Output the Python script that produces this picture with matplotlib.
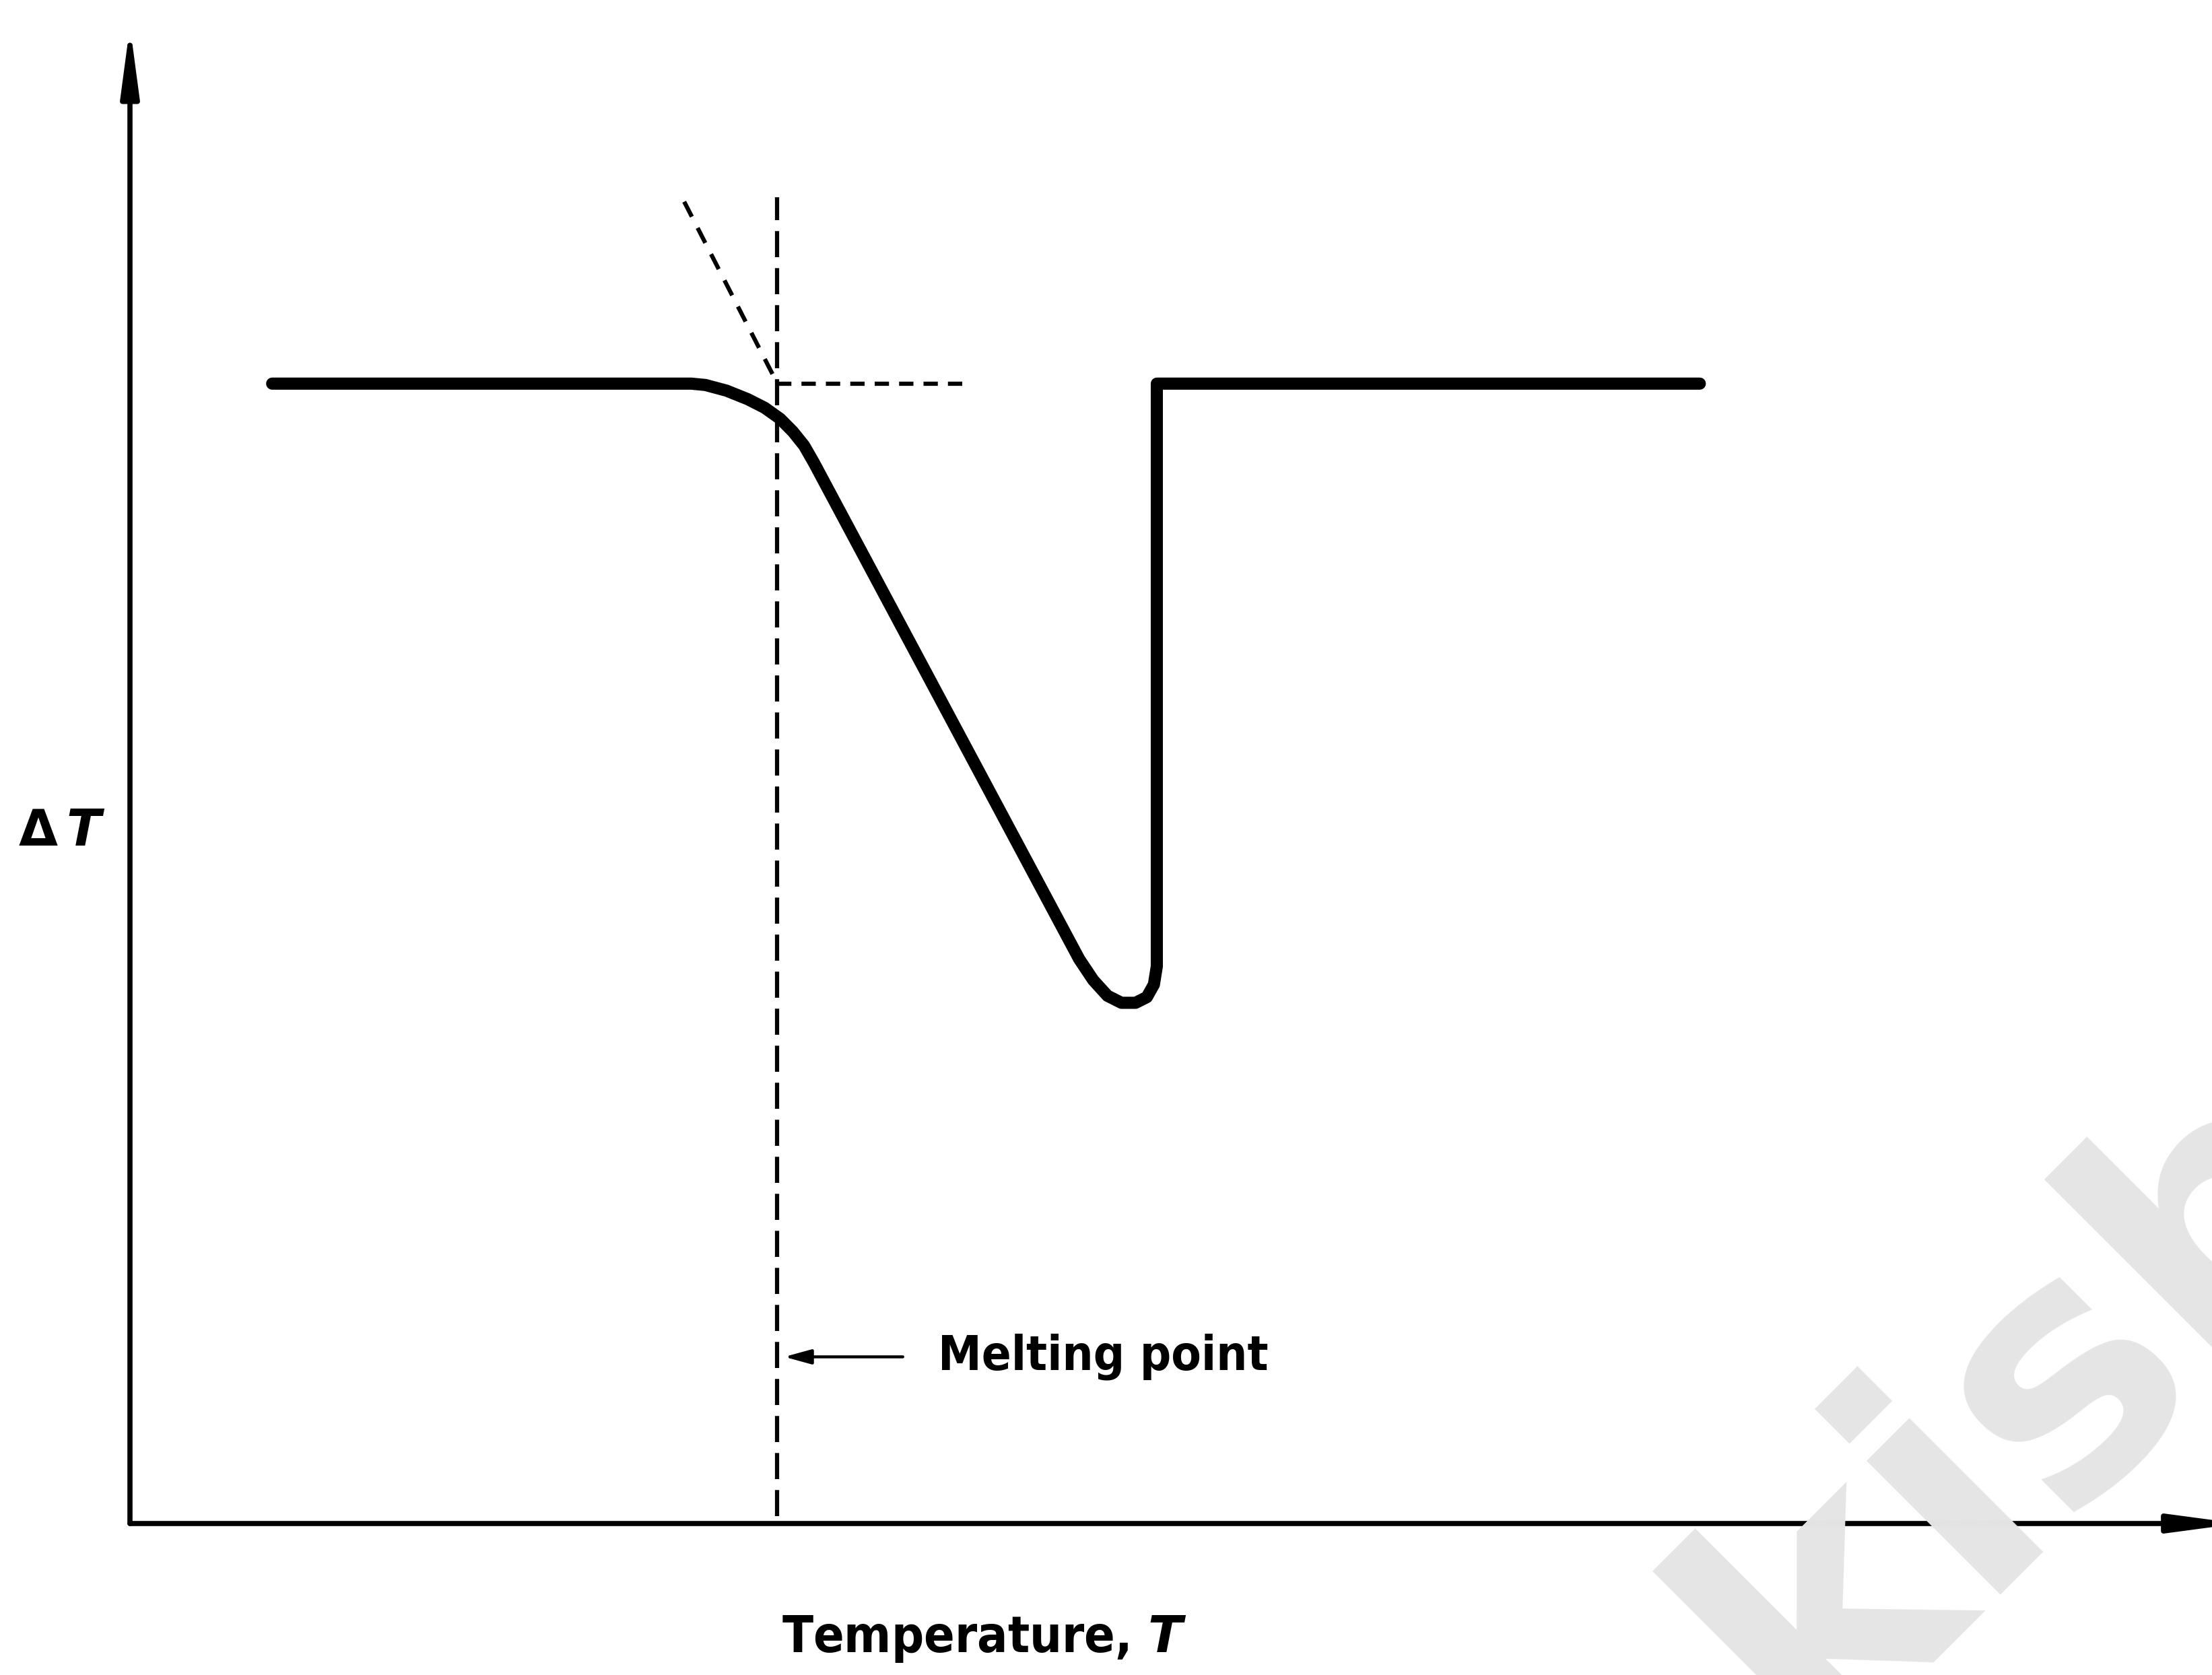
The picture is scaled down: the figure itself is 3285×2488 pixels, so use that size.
import matplotlib
matplotlib.use("Agg")
import matplotlib.pyplot as plt
from matplotlib import font_manager as fm

# ---------------- data (arbitrary units: T along x, delta-T along y) -------------
curve_T = [6.83, 26.96, 27.64, 28.65, 29.67, 30.48, 31.23, 31.84, 32.38, 32.85,
           45.59, 46.27, 46.95, 47.62, 48.30, 48.84, 49.18, 49.32, 49.32, 75.40]
curve_dT = [74.82, 74.82, 74.73, 74.36, 73.80, 73.24, 72.51, 71.67, 70.75, 69.63,
            37.05, 35.66, 34.64, 34.18, 34.18, 34.55, 35.38, 36.58, 74.82, 74.82]

melt_T = 31.09                      # melting point (vertical dashed line)
melt_dT_range = [0.49, 87.04]
base_dT = 74.82                     # baseline level
base_dash_T = [31.09, 40.03]        # horizontal dashed extension
tangent_T = [26.62, 30.89]          # extrapolated tangent (dashed)
tangent_dT = [86.76, 75.37]

label_T = [37.12, 31.43]            # arrow of the "Melting point" label (tail, head)
label_dT = 10.94
label_text = "Melting point"
xlabel = r"Temperature, $T$"
ylabel = r"$\Delta\,T$"
watermark = "kisb"

# ---------------- figure ----------------
W, H, DPI = 3285, 2488, 100
plt.rcParams["font.family"] = ["DejaVu Sans"]
plt.rcParams["mathtext.fontset"] = "custom"
plt.rcParams["mathtext.rm"] = "DejaVu Sans:bold"
plt.rcParams["mathtext.it"] = "DejaVu Sans:italic:bold"
plt.rcParams["mathtext.bf"] = "DejaVu Sans:bold"

# bold condensed face if present, otherwise regular weight
has_cond = any(f.name == "DejaVu Sans" and str(f.stretch) in ("condensed", "semi-condensed")
               and f.weight in (700, "bold") for f in fm.fontManager.ttflist)
if has_cond:
    txt_kw = dict(fontweight="bold", fontstretch="condensed")
    fs_label, fs_axis = 52, 54
else:
    txt_kw = dict(fontweight="bold")
    fs_label, fs_axis = 48, 50

fig = plt.figure(figsize=(W / DPI, H / DPI), dpi=DPI)
fig.patch.set_facecolor("white")

ox, oy = 193, 2263                  # axis origin in pixels (from top-left)
ax = fig.add_axes([ox / W, (H - oy) / H, (W - ox) / W, oy / H])
ax.set_xlim(0, 100)
ax.set_ylim(0, 100)
for s in ax.spines.values():
    s.set_visible(False)
ax.set_xticks([])
ax.set_yticks([])
ax.patch.set_alpha(0)

# watermark
fig.text(3109 / W, 1 - 2189 / H, watermark, rotation=45, rotation_mode="anchor",
         ha="center", va="baseline", fontsize=370, fontweight="bold",
         color="#e5e5e5", zorder=0, family="DejaVu Sans")

# axes with arrows
axis_kw = dict(arrowstyle="-|>,head_length=1.5,head_width=0.2", lw=5.5,
               color="black", shrinkA=0, shrinkB=0, mutation_scale=40)
ax.annotate("", xy=(0, 98.3), xytext=(0, 0), xycoords="data",
            arrowprops=axis_kw, annotation_clip=False)
ax.annotate("", xy=(101.3, 0), xytext=(0, 0), xycoords="data",
            arrowprops=axis_kw, annotation_clip=False)

# main DTA curve
ax.plot(curve_T, curve_dT, color="black", lw=13, solid_capstyle="round",
        solid_joinstyle="round", zorder=5, clip_on=False)

# dashed construction lines
ax.plot([melt_T, melt_T], melt_dT_range, color="black", lw=4.5,
        linestyle=(0, (6.2, 2.6)), zorder=4)
ax.plot(base_dash_T, [base_dT, base_dT], color="black", lw=4.5,
        linestyle=(0, (3.4, 2.4)), zorder=4)
ax.plot(tangent_T, tangent_dT, color="black", lw=4.5,
        linestyle=(0, (4.0, 3.0)), zorder=4)

# melting point label with arrow
ax.annotate("", xy=(label_T[1], label_dT), xytext=(label_T[0], label_dT),
            arrowprops=dict(arrowstyle="-|>,head_length=0.8,head_width=0.22",
                            lw=3.2, color="black", shrinkA=0, shrinkB=0,
                            mutation_scale=30))
ax.text(label_T[0] + 1.7, label_dT, label_text, ha="left", va="center",
        fontsize=fs_label, color="black", **txt_kw)

# axis labels
fig.text(1462 / W, 1 - 2434 / H, xlabel, ha="center", va="center",
         fontsize=fs_axis, color="black", **txt_kw)
fig.text(92 / W, 1 - 1236 / H, ylabel, ha="center", va="center",
         fontsize=fs_axis, color="black", **txt_kw)

fig.savefig("out.png", dpi=DPI, facecolor="white")
